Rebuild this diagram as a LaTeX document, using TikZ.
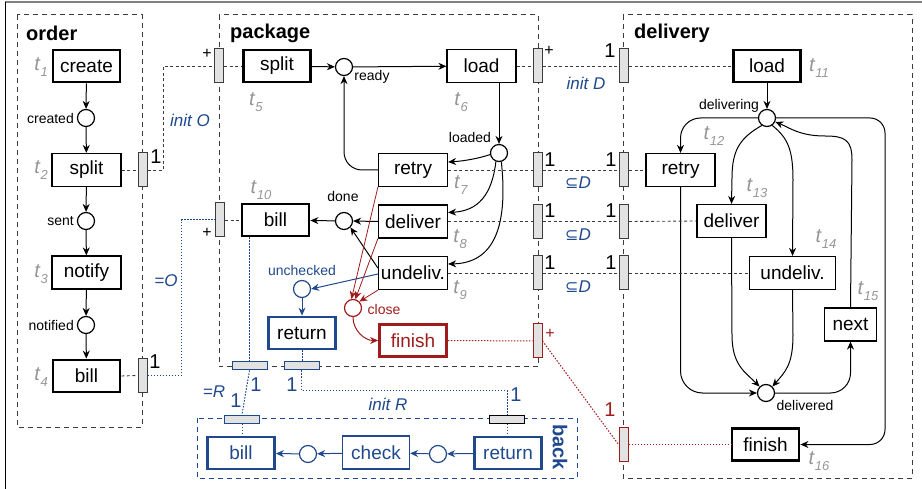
\documentclass[tikz,border=0pt]{standalone}
\usepackage{fontspec}
\setmainfont{Liberation Sans}
\newfontfamily\djv{DejaVu Sans}
\usetikzlibrary{arrows.meta}
\definecolor{bl}{RGB}{31,73,140}
\definecolor{rd}{RGB}{160,28,28}
\definecolor{tg}{RGB}{150,150,150}
\definecolor{bf}{RGB}{226,226,226}
\definecolor{dk}{RGB}{60,60,60}
\newcommand\fz[1]{\fontsize{#1}{#1}\selectfont}
\newcommand\tlab[1]{\textit{t}\raisebox{-0.3em}{\fz{13}\textit{#1}}}
\newcommand\subD{{\djv\fz{16}⊆}\textit{D}}
\begin{document}
\begin{tikzpicture}[x=1pt,y=-1pt,
 tr/.style={draw, line width=1.2pt, minimum width=69pt, minimum height=33pt, inner sep=0pt, font=\fz{19}},
 trk/.style={tr, line width=2.8pt, minimum width=67pt, minimum height=32pt},
 pl/.style={circle, draw, minimum size=17pt, inner sep=0pt, line width=1.2pt},
 vb/.style={draw=dk, fill=bf, minimum width=9pt, minimum height=34pt, inner sep=0pt, line width=1pt},
 hb/.style={draw=bl, fill=bf, minimum width=35pt, minimum height=8pt, inner sep=0pt, line width=1pt},
 arr/.style={-{Stealth[length=8pt,width=7pt]}, line width=1pt},
 grp/.style={draw=dk, dash pattern=on 5pt off 4pt, line width=1pt},
 ifl/.style={draw=dk, dash pattern=on 3pt off 2.5pt, line width=0.9pt},
 bdot/.style={draw=bl, dash pattern=on 1.5pt off 1.5pt, line width=1pt},
 rdot/.style={draw=rd, dash pattern=on 1.5pt off 1.5pt, line width=1pt},
 lbl/.style={font=\fz{14}, inner sep=0pt},
 tl/.style={font=\fz{20}, text=tg, inner sep=0pt},
 num/.style={font=\fz{20}, inner sep=0pt},
 pls/.style={font=\fz{16}, inner sep=0pt},
 bt/.style={font=\fz{17}\itshape, text=bl, inner sep=0pt},
 ttl/.style={font=\fz{20}\bfseries, inner sep=0pt, anchor=west}]
\useasboundingbox (0,0) rectangle (922,489);
\draw[line width=1.6pt, gray] (5,2) -- (922,2);
\draw[line width=1pt] (5.5,2) -- (5.5,489);
% groups
\draw[grp] (17,15) rectangle (142,427);
\draw[grp] (219,15) rectangle (538,367);
\draw[grp] (623,15) rectangle (912,478);
\draw[grp, draw=bl] (197,418) rectangle (577,478);
\node[ttl] (tord) at (26,33) {order};
\node[ttl] (tpkg) at (230,33) {package};
\node[ttl] (tdel) at (634,33) {delivery};
\node[font=\fz{20}\bfseries, text=bl, rotate=-90, inner sep=0pt] (tbck) at (560,447) {back};
% order
\node[trk] (o1) at (86.5,66) {create};
\node[pl] (op1) at (86,118) {};
\node[tr] (o2) at (86.5,170) {split};
\node[pl] (op2) at (86,221) {};
\node[tr] (o3) at (86.5,272.5) {notify};
\node[pl] (op3) at (86,325) {};
\node[trk] (o4) at (86.5,376) {bill};
\node[vb] (ob2) at (142.5,170) {};
\node[vb] (ob4) at (142.5,375.5) {};
\node[lbl, anchor=east] (lop1) at (74,118) {created};
\node[lbl, anchor=east] (lop2) at (74,221) {sent};
\node[lbl, anchor=east] (lop3) at (74,325) {notified};
\node[tl] (t1) at (41,67) {\tlab{1}};
\node[tl] (t2) at (41,170) {\tlab{2}};
\node[tl] (t3) at (41,274) {\tlab{3}};
\node[tl] (t4) at (41,377) {\tlab{4}};
\node[num] (n1) at (156,157) {1};
\node[num] (n2) at (155,362) {1};
\foreach \a/\b in {o1/op1, op1/o2, o2/op2, op2/o3, o3/op3, op3/o4}
  \draw[arr] (\a) -- (\b);
% package
\node[vb] (pbs) at (219,66) {};
\node[vb] (pbb) at (220,220) {};
\node[trk] (p5) at (277,66) {split};
\node[pl] (pr) at (344,67) {};
\node[tr] (p6) at (481.5,66) {load};
\node[pl] (pld) at (499,153) {};
\node[tr] (p7) at (413,170) {retry};
\node[tr] (p8) at (413,221.5) {deliver};
\node[tr] (p9) at (413,273) {undeliv.};
\node[trk] (p10) at (275.5,220) {bill};
\node[pl] (pdn) at (344,221) {};
\node[pl, draw=bl] (pu) at (302,289) {};
\node[trk, draw=bl] (pret) at (302,333) {return};
\node[pl, draw=rd] (pcl) at (353,308) {};
\node[trk, draw=rd, text=rd] (pfin) at (413,340.5) {finish};
\node[vb] (pbl) at (537.5,66) {};
\node[vb] (pb7) at (537.5,170) {};
\node[vb] (pb8) at (537.5,221.5) {};
\node[vb] (pb9) at (537.5,273) {};
\node[vb, draw=rd] (pbf) at (537.5,341) {};
\node[hb] (hb1) at (249.5,366) {};
\node[hb] (hb2) at (301.5,366) {};
\node[lbl] (lpr) at (372,77) {ready};
\node[lbl] (lpld) at (470,137) {loaded};
\node[lbl] (lpdn) at (343,196) {done};
\node[lbl, text=bl] (lpu) at (302,270) {unchecked};
\node[lbl, text=rd] (lpcl) at (384,309) {close};
\node[tl] (t5) at (256,102) {\tlab{5}};
\node[tl] (t6) at (461,102) {\tlab{6}};
\node[tl] (t7) at (461,185) {\tlab{7}};
\node[tl] (t8) at (460,239) {\tlab{8}};
\node[tl] (t9) at (460,290) {\tlab{9}};
\node[tl] (t10) at (261,190) {\tlab{10}};
\node[pls] (np1) at (207,54) {+};
\node[pls] (np2) at (207,233) {+};
\node[pls] (np3) at (549,51) {+};
\node[pls, text=rd] (np4) at (550,334) {+};
\node[num] (n3) at (550,160) {1};
\node[num] (n4) at (550,211) {1};
\node[num] (n5) at (550,263) {1};
\draw[arr] (p5) -- (pr);
\draw[arr] (pr) -- (p6);
\draw[arr] (pld |- p6.south) -- (pld.north);
\draw[arr] (pld.190) .. controls (480,158) and (465,161) .. ([yshift=8pt]p7.east);
\draw[arr] (pld.250) .. controls (492,195) and (478,211) .. ([yshift=9pt]p8.east);
\draw[arr] (pld.285) .. controls (508,225) and (495,263) .. ([yshift=9pt]p9.east);
\draw[arr, rounded corners=18pt] (p7.west) -| (pr.south);
\draw[arr] (p8.west) -- (pdn.east);
\draw[arr] (pdn) -- (p10);
\draw[arr] ([yshift=5pt]p9.west) -- (pdn.-45);
\draw[arr, draw=bl, -{Stealth[length=8pt,width=7pt,fill=bl]}] ([yshift=-1pt]p9.west) -- (pu.east);
\draw[arr, draw=bl] (pu) -- (pret);
\draw[arr, draw=rd, line width=0.8pt] (p7.south west) -- (pcl.100);
\draw[arr, draw=rd, line width=0.8pt] (p8.south west) -- (pcl.75);
\draw[arr, draw=rd, line width=0.8pt] (p9.south west) -- (pcl.45);
\draw[arr, draw=rd] (pcl.south) to[out=-90, in=180] (pfin.west);
% delivery
\node[vb] (dbl) at (624,66) {};
\node[vb] (db7) at (624,170) {};
\node[vb] (db8) at (624,221.5) {};
\node[vb] (db9) at (624,273) {};
\node[vb, draw=rd] (dbf) at (623.5,444.5) {};
\node[trk] (d11) at (767,66) {load};
\node[pl] (dpg) at (767,118) {};
\node[tr] (d12) at (680.5,170) {retry};
\node[tr] (d13) at (731.5,221) {deliver};
\node[tr, minimum width=86pt] (d14) at (792.5,273) {undeliv.};
\node[tr, minimum width=52pt] (d15) at (850.5,324.5) {next};
\node[pl] (dpd) at (766,393) {};
\node[trk] (d16) at (765.5,444.5) {finish};
\node[lbl] (ldpg) at (729,106) {delivering};
\node[lbl] (ldpd) at (805,405) {delivered};
\node[tl] (t11) at (819,68) {\tlab{11}};
\node[tl] (t12) at (714,136) {\tlab{12}};
\node[tl] (t13) at (757,188) {\tlab{13}};
\node[tl] (t14) at (826,239) {\tlab{14}};
\node[tl] (t15) at (868,291) {\tlab{15}};
\node[tl] (t16) at (819,461) {\tlab{16}};
\node[num] (n6) at (610,51) {1};
\node[num] (n7) at (611,160) {1};
\node[num] (n8) at (611,211) {1};
\node[num] (n9) at (611,263) {1};
\node[num, text=rd] (n10) at (610,410) {1};
\draw[arr] (d11) -- (dpg);
\draw[arr, rounded corners=20pt] (dpg.west) -| (d12.north);
\draw[arr] (dpg.235) .. controls (740,138) and (732,150) .. (732,178) -- (d13.north);
\draw[arr] (dpg.-55) .. controls (788,138) and (793,150) .. (793,180) -- (d14.north);
\draw[arr] (d15.north) -- (852,160) .. controls (852,140) and (845,136) .. (825,136) .. controls (800,136) and (790,128) .. (dpg.-25);
\draw[arr, rounded corners=15pt] (dpg.east) -- (885,118) -- (885,444.5) -- (d16.east);
\draw[arr, rounded corners=22pt] (d12.south) |- (dpd.west);
\draw[arr] (d13.south) -- (732,335) .. controls (732,365) and (745,372) .. (dpd.135);
\draw[arr] (d14.south) -- (793,335) .. controls (793,365) and (785,372) .. (dpd.45);
\draw[arr, rounded corners=20pt] (dpd.east) -| (d15.south);
% back
\node[hb] (bb1) at (242,419) {};
\node[hb, draw=black] (bb2) at (507,419) {};
\node[trk, draw=bl, text=bl] (k1) at (241,453) {bill};
\node[pl, draw=bl] (kp1) at (308,454) {};
\node[tr, draw=bl, text=bl, minimum width=67pt] (k2) at (376,452.5) {check};
\node[pl, draw=bl] (kp2) at (438,454) {};
\node[trk, draw=bl, text=bl] (k3) at (508,453) {return};
\draw[arr, draw=bl] (k3) -- (kp2);
\draw[arr, draw=bl] (kp2) -- (k2);
\draw[arr, draw=bl] (k2) -- (kp1);
\draw[arr, draw=bl] (kp1) -- (k1);
\node[num, text=bl] (n11) at (256,385) {1};
\node[num, text=bl] (n12) at (292,385) {1};
\node[num, text=bl] (n13) at (236,401) {1};
\node[num, text=bl] (n14) at (516,395) {1};
% interface lines
\draw[ifl] (o2.east) -- (ob2.west);
\draw[ifl] (ob2.east) -- ++(16,0) |- (pbs.west);
\draw[ifl, draw=dk] (o4.east) -- (ob4.west);
\draw[bdot] (ob4.east) -- ++(34,0) |- (pbb.west);
\draw[ifl] (pbs.east) -- (p5.west);
\draw[ifl] (pbb.east) -- (p10.west);
\draw[ifl] (p6.east) -- (pbl.west);
\draw[ifl] (pbl.east) -- (dbl.west);
\draw[ifl] (dbl.east) -- (d11.west);
\draw[ifl] (p7.east) -- (pb7.west);
\draw[ifl] (pb7.east) -- (db7.west);
\draw[ifl] (db7.east) -- (d12.west);
\draw[ifl] (p8.east) -- (pb8.west);
\draw[ifl] (pb8.east) -- (db8.west);
\draw[ifl] (db8.east) -- (d13.west);
\draw[ifl] (p9.east) -- (pb9.west);
\draw[ifl] (pb9.east) -- (db9.west);
\draw[ifl] (db9.east) -- (d14.west);
\draw[rdot] (pfin.east) -- (pbf.west);
\draw[rdot] (pbf.east) -- (dbf.west);
\draw[rdot] (dbf.east) -- (d16.west);
\draw[bdot] (p10.south -| hb1) -- (hb1.north);
\draw[bdot] (hb1.south) -- (bb1.north);
\draw[bdot] (bb1.south) -- (bb1.south |- k1.north);
\draw[bdot] (pret.south) -- (pret.south |- hb2.north);
\draw[bdot] (hb2.south) -- ++(0,20) -| (bb2.north);
\draw[bdot] (bb2.south) -- (bb2.south |- k3.north);
% interface labels
\node[bt] (lio) at (190,120) {init O};
\node[bt] (leo) at (166,281) {=O};
\node[bt] (lid) at (586,83) {init D};
\node[bt] (ld7) at (578,183) {\subD};
\node[bt] (ld8) at (578,235) {\subD};
\node[bt] (ld9) at (578,287) {\subD};
\node[bt] (ler) at (214,392) {=R};
\node[bt] (lir) at (388,404) {init R};
\end{tikzpicture}
\end{document}
